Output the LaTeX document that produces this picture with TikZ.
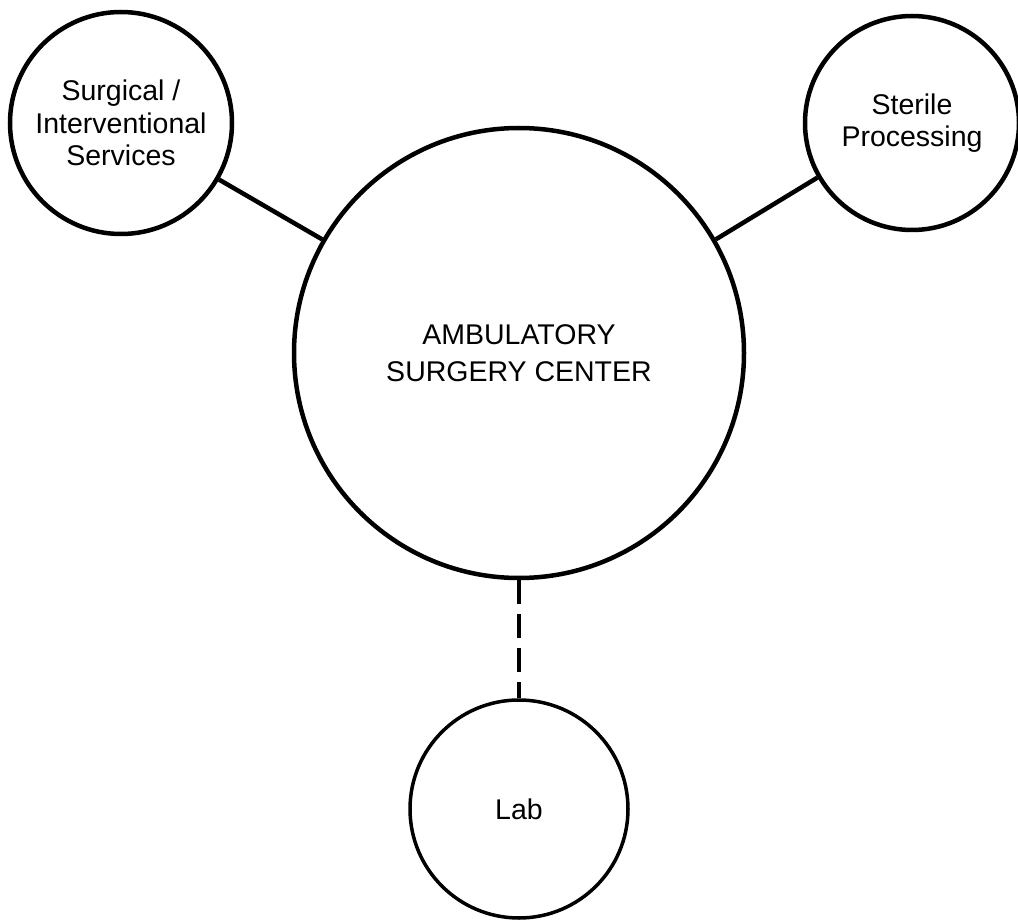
\documentclass[tikz,border=0pt]{standalone}
\usepackage{fontspec}
\setmainfont{Liberation Sans}
\begin{document}
\begin{tikzpicture}[x=1pt,y=1pt,
  hub/.style={circle,draw,line width=4.5pt,inner sep=0pt,align=center,font=\fontsize{28.5}{36.5}\selectfont},
  sat/.style={circle,draw,line width=4.5pt,inner sep=0pt,align=center,font=\fontsize{28.5}{32.5}\selectfont},
  satthin/.style={sat,line width=3.5pt},
  link/.style={line width=4.5pt},
  dlink/.style={line width=4pt,dash pattern=on 24pt off 10pt}]
\useasboundingbox[fill=white] (0,0) rectangle (1018,-920);
\node[hub,minimum size=450pt] (asc) at (519,-353) {AMBULATORY\\SURGERY CENTER};
\node[sat,minimum size=222pt] (surg) at (121,-123) {Surgical /\\Interventional\\Services};
\node[sat,minimum size=214pt] (sterile) at (912,-123) {Sterile\\Processing};
\node[satthin,minimum size=218pt] (lab) at (519,-809) {Lab};
\draw[link] (asc.150) -- (surg.-30);
\draw[link] (asc.30) -- (sterile.210);
\draw[dlink] (asc.south) -- (lab.north);
\end{tikzpicture}
\end{document}
